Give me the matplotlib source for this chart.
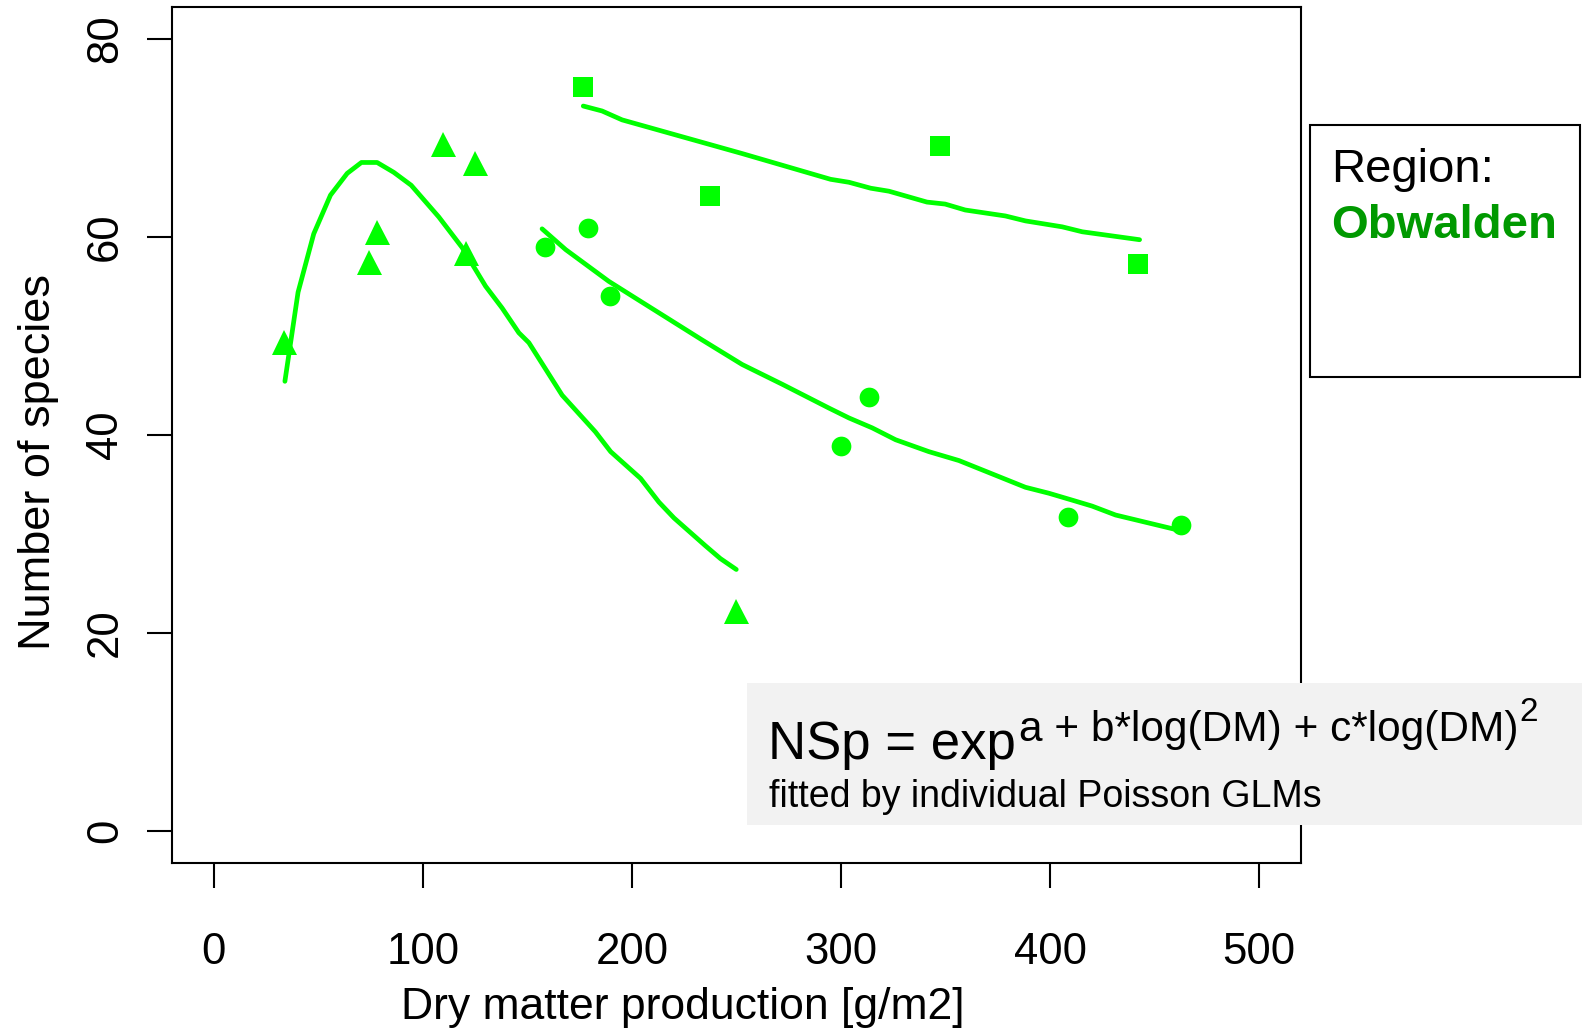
import matplotlib
matplotlib.use('Agg')
import matplotlib.pyplot as plt
from matplotlib.patches import Rectangle

# data
# triangles (first site group)
tri_x = [33.5, 74.3, 78.1, 109.4, 120.4, 125.0, 249.9]
tri_y = [49.4, 57.5, 60.5, 69.4, 58.4, 67.4, 22.2]
tri_fit_x = [34.0, 40.3, 47.8, 55.8, 63.8, 70.6, 78.1, 86.1, 94.4, 107.6, 118.8, 130.0,
             137.9, 145.9, 150.7, 166.6, 182.5, 189.8, 204.1, 212.9, 220.1, 235.1, 242.3, 249.9]
tri_fit_y = [45.4, 54.4, 60.3, 64.2, 66.4, 67.5, 67.5, 66.5, 65.2, 62.0, 58.9, 55.0,
             52.8, 50.3, 49.3, 44.0, 40.3, 38.3, 35.6, 33.2, 31.6, 28.8, 27.5, 26.4]

# squares
sq_x = [176.5, 237.4, 347.3, 442.1]
sq_y = [75.1, 64.15, 69.2, 57.2]
sq_fit_x = [176.7, 185.7, 195.3, 224.0, 252.7, 295.0, 303.8, 314.2, 322.9, 341.1, 349.8,
            359.4, 378.6, 388.2, 405.8, 415.4, 442.8]
sq_fit_y = [73.2, 72.7, 71.8, 70.1, 68.4, 65.8, 65.5, 64.9, 64.6, 63.5, 63.3,
            62.7, 62.1, 61.6, 61.0, 60.5, 59.7]

# circles
circ_x = [158.5, 179.0, 189.5, 300.2, 313.2, 408.5, 462.7]
circ_y = [59.0, 60.9, 54.05, 38.9, 43.8, 31.7, 30.9]
circ_fit_x = [157.0, 168.3, 188.9, 201.7, 233.4, 252.7, 271.9, 294.2, 303.8, 314.9, 326.1,
              342.0, 356.4, 388.2, 399.4, 410.6, 420.1, 431.3, 460.8]
circ_fit_y = [60.8, 58.7, 55.5, 53.8, 49.6, 47.1, 45.1, 42.7, 41.7, 40.7, 39.5,
              38.3, 37.4, 34.7, 34.1, 33.4, 32.8, 31.9, 30.4]

x_ticks = [0, 100, 200, 300, 400, 500]
y_ticks = [0, 20, 40, 60, 80]

GREEN = '#00ff00'
DARK_GREEN = '#009900'
W, H = 1582, 1031

plt.rcParams['font.family'] = 'Liberation Sans'

fig = plt.figure(figsize=(W / 100, H / 100), dpi=100)


# figure pixel (from top-left) -> figure fraction
def fx(px):
    return px / W


def fy(py):
    return 1 - py / H


ax = fig.add_axes([fx(172), fy(862.6), 1129 / W, 855.6 / H])

for fx_, fy_ in [(tri_fit_x, tri_fit_y), (sq_fit_x, sq_fit_y), (circ_fit_x, circ_fit_y)]:
    ax.plot(fx_, fy_, color=GREEN, lw=3.4, solid_capstyle='round', solid_joinstyle='round')
ax.plot(tri_x, tri_y, '^', ms=18, color=GREEN, mew=0)
ax.plot(sq_x, sq_y, 's', ms=14.8, color=GREEN, mew=0)
ax.plot(circ_x, circ_y, 'o', ms=14.2, color=GREEN, mew=0)

ax.set_xlim(-20, 520)
ax.set_ylim(-3.2, 83.2)
ax.set_xticks(x_ticks)
ax.set_yticks(y_ticks)
for s in ax.spines.values():
    s.set_linewidth(1.5)
ax.tick_params(length=18.2, width=1.5, labelsize=31.5, direction='out')
ax.tick_params(axis='x', pad=54.5)
ax.tick_params(axis='y', pad=21.5)
for lab in ax.get_xticklabels():
    lab.set_va('baseline')
for lab in ax.get_yticklabels():
    lab.set_rotation(90)
    lab.set_rotation_mode('anchor')
    lab.set_ha('center')
    lab.set_va('baseline')

# axis titles
fig.text(fx(682.5), fy(1019), 'Dry matter production [g/m2]', fontsize=32,
         ha='center', va='baseline')
fig.text(fx(50.5), fy(461.6), 'Number of species', fontsize=32.5, rotation=90,
         rotation_mode='anchor', ha='center', va='baseline')

# region box
fig.add_artist(Rectangle((fx(1310), fy(376.7)), 270 / W, 251.7 / H, transform=fig.transFigure,
                         facecolor='white', edgecolor='black', lw=1.5))
fig.text(fx(1331), fy(181.7), 'Region:', fontsize=34, va='baseline')
fig.text(fx(1331), fy(238.5), 'Obwalden', fontsize=34, fontweight='bold',
         color=DARK_GREEN, va='baseline')

# equation box
fig.add_artist(Rectangle((fx(746.6), fy(825)), (W - 746.6) / W, 142 / H,
                         transform=fig.transFigure, facecolor='#f2f2f2', edgecolor='none'))
t1 = fig.text(fx(768), fy(759), 'NSp = exp', fontsize=38, va='baseline')
r = fig.canvas.get_renderer()
bb = t1.get_window_extent(r)
t2 = fig.text((bb.x1 + 3) / W, fy(741), 'a + b*log(DM) + c*log(DM)', fontsize=30.5,
              va='baseline')
bb2 = t2.get_window_extent(r)
fig.text((bb2.x1 + 1) / W, fy(721), '2', fontsize=24, va='baseline')
fig.text(fx(769), fy(807), 'fitted by individual Poisson GLMs', fontsize=27, va='baseline')

fig.savefig('out.png', dpi=100)
